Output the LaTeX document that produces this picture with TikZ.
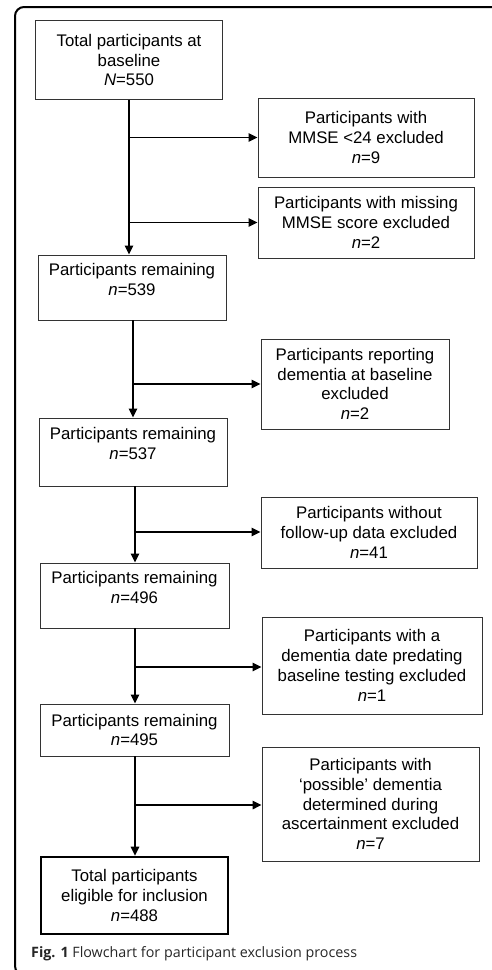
\documentclass[tikz,border=0pt]{standalone}
\usepackage{fontspec}
\setmainfont{Liberation Sans}
\newfontfamily\capfont{Open Sans}
\usetikzlibrary{arrows.meta}
\begin{document}
\begin{tikzpicture}[x=1pt,y=-1pt,
  box/.style={draw=black!80,line width=0.9pt,inner sep=0pt,align=center,
    font=\fontsize{16.8}{19.8}\selectfont},
  conn/.style={line width=1.5pt,-{Triangle[length=9pt,width=8.5pt]}},
  trunk/.style={line width=1.5pt}]
\useasboundingbox (0,0) rectangle (492,970);
\begin{scope}
\clip (0,0) rectangle (492,970);
\draw[line width=2pt,rounded corners=9pt] (500,7) -- (15,7) -- (15,975) -- (500,975);
\end{scope}
% main boxes
\node[box,minimum width=187pt,minimum height=79pt] (b1) at (129,60) {Total participants at\\baseline\\\textit{N}=550};
\node[box,minimum width=188pt,minimum height=65pt] (b4) at (132,287.5) {Participants remaining\\\textit{n}=539\\[-9pt]\strut};
\node[box,minimum width=188pt,minimum height=68pt] (b6) at (133,452) {Participants remaining\\\textit{n}=537\\[-9pt]\strut};
\node[box,minimum width=189pt,minimum height=65pt] (b8) at (134.5,595.5) {Participants remaining\\\textit{n}=496\\[-9pt]\strut};
\node[box,minimum width=189pt,minimum height=52pt] (b10) at (134.5,730) {Participants remaining\\\textit{n}=495};
\node[box,line width=2.6pt,draw=black,minimum width=187pt,minimum height=77pt] (b12) at (134.5,895.5) {Total participants\\eligible for inclusion\\\textit{n}=488};
% side boxes
\node[box,minimum width=216pt,minimum height=79pt] (b2) at (366,137.5) {Participants with\\MMSE {<}24 excluded\\\textit{n}=9};
\node[box,minimum width=216pt,minimum height=71pt] (b3) at (366,222.5) {Participants with missing\\MMSE score excluded\\\textit{n}=2};
\node[box,minimum width=188pt,minimum height=90pt] (b5) at (355,384) {Participants reporting\\dementia at baseline\\excluded\\\textit{n}=2};
\node[box,minimum width=216pt,minimum height=71pt] (b7) at (369,532.5) {Participants without\\follow-up data excluded\\\textit{n}=41};
\node[box,minimum width=220pt,minimum height=97pt] (b9) at (372,665.5) {Participants with a\\dementia date predating\\baseline testing excluded\\\textit{n}=1};
\node[box,minimum width=217pt,minimum height=114pt] (b11) at (370.5,804) {Participants with\\`possible' dementia\\determined during\\ascertainment excluded\\\textit{n}=7};
% junction coordinates
\coordinate (j2) at (b1.south |- b2.west);
\coordinate (j3) at (b1.south |- b3.west);
\coordinate (j5) at (133,384);
\coordinate (j7) at (135,532);
\coordinate (j9) at (135,667);
\coordinate (j11) at (135,805);
% trunk
\draw[conn] (b1.south) -- (b1.south |- b4.north);
\draw[conn] (j2) -- (b2.west);
\draw[conn] (j3) -- (b3.west);
\draw[conn] (b4.south -| j5) -- (b6.north -| j5);
\draw[conn] (j5) -- (b5.west);
\draw[conn] (b6.south -| j7) -- (b8.north -| j7);
\draw[conn] (j7) -- (b7.west |- j7);
\draw[conn] (b8.south -| j9) -- (b10.north -| j9);
\draw[conn] (j9) -- (b9.west |- j9);
\draw[conn] (b10.south -| j11) -- (b12.north -| j11);
\draw[conn] (j11) -- (b11.west |- j11);
% caption
\node[anchor=west,inner sep=0pt,font=\capfont\fontsize{14.3}{16}\selectfont,text=black!85] (cap) at (31,954) {\textbf{Fig. 1} Flowchart for participant exclusion process};
\end{tikzpicture}
\end{document}
